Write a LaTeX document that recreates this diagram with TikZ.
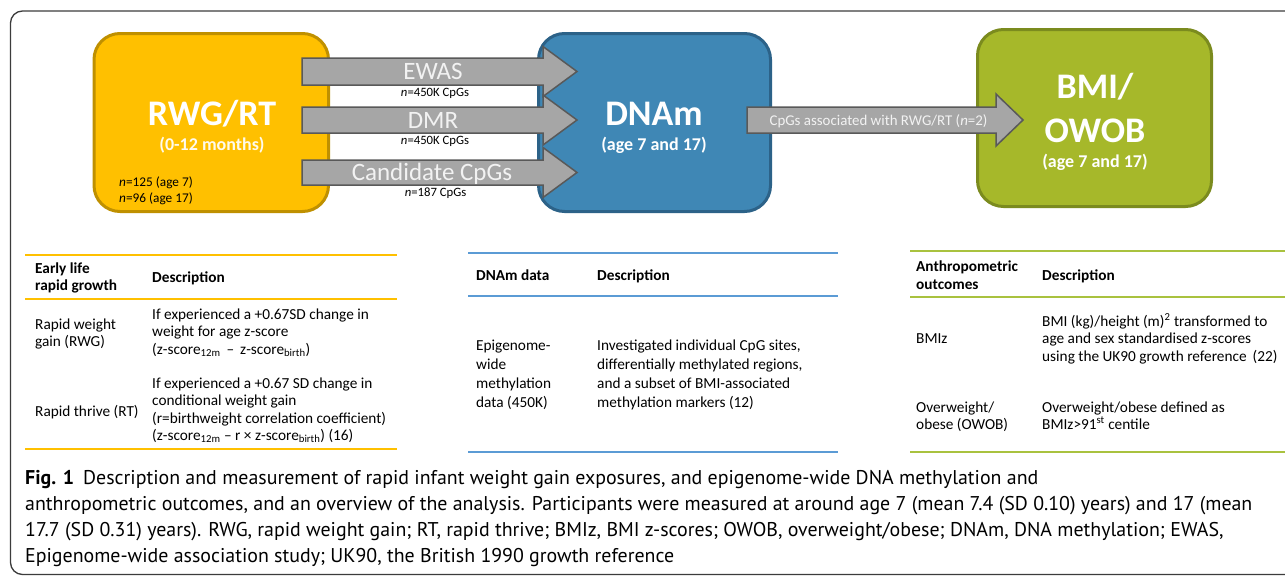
\documentclass[tikz,border=0pt]{standalone}
\usepackage{fontspec}
\setmainfont{Carlito}
\newfontfamily\capfont{PT Sans}
\usetikzlibrary{calc}
\definecolor{ybox}{HTML}{FFC000}
\definecolor{yedge}{HTML}{BF9000}
\definecolor{bbox}{HTML}{3F87B5}
\definecolor{bedge}{HTML}{2C6288}
\definecolor{gbox}{HTML}{A6B82A}
\definecolor{gedge}{HTML}{7B8B1E}
\definecolor{afill}{HTML}{A6A6A6}
\definecolor{aedge}{HTML}{595959}
\definecolor{alabel}{HTML}{F2F2F2}
\definecolor{yline}{HTML}{FFC000}
\definecolor{bline}{HTML}{5B9BD5}
\definecolor{gline}{HTML}{A9C23F}
\definecolor{framec}{HTML}{3C3C3C}
\newcommand\blockarrow[5]{%
  \draw[barrow] ($(#1)+(0,-#3)$) -- ($(#2)+(-#5,-#3)$) -- ($(#2)+(-#5,-#4)$) -- (#2)
    -- ($(#2)+(-#5,#4)$) -- ($(#2)+(-#5,#3)$) -- ($(#1)+(0,#3)$) -- cycle;}
\newcommand\textlines[5]{%
  \foreach \tl [count=\ti] in {#5} {\node[cell, anchor=base west] (#1-\ti) at (#2, {#3+(\ti-1)*#4}) {\tl};}}
\begin{document}
\begin{tikzpicture}[x=1pt,y=-1pt,
  box/.style={draw, line width=3pt, rounded corners=26pt, inner sep=0pt},
  bigt/.style={text=white, font=\bfseries\fontsize{36}{40}\selectfont, inner sep=0pt},
  midt/.style={text=white, font=\bfseries\fontsize{18}{20}\selectfont, inner sep=0pt},
  smallt/.style={text=black, font=\fontsize{13.3}{16}\selectfont, inner sep=0pt},
  barrow/.style={fill=afill, draw=aedge, line width=1.5pt, line join=miter},
  alab/.style={text=alabel, font=\fontsize{25}{28}\selectfont, inner sep=0pt},
  nlab/.style={text=black, font=\fontsize{12.7}{15}\selectfont, inner sep=0pt},
  cell/.style={text=black, font=\fontsize{15.3}{18}\selectfont, inner sep=0pt},
  hcell/.style={cell, font=\bfseries\fontsize{15.3}{18}\selectfont},
  rule/.style={line width=2pt},
  captext/.style={text=black, font=\capfont\fontsize{19.9}{26}\selectfont, inner sep=0pt},
  framest/.style={draw=framec, line width=1.3pt, rounded corners=12pt}]
\useasboundingbox (0,0) rectangle (1285,576);
\clip (0,0) rectangle (1285,576);
\fill[white] (0,0) rectangle (1285,576);
\draw[framest] (10.5,11) rectangle (1320,574.5);

% boxes
\node[box, fill=ybox, draw=yedge, minimum width=234.5pt, minimum height=178pt] (rwg) at (211.25,122.5) {};
\node[box, fill=bbox, draw=bedge, minimum width=232pt, minimum height=178pt] (dnam) at (654.5,122.5) {};
\node[box, fill=gbox, draw=gedge, minimum width=234pt, minimum height=177pt] (bmi) at (1094.5,118) {};

\node[bigt, anchor=base] (rwgT) at (212,125) {RWG/RT};
\node[midt, anchor=base, text=white!92!ybox] (rwgS) at (212,150) {(0-12 months)};
\node[smallt, anchor=base west] (rwgN1) at (119,186.5) {\textit{n}=125 (age 7)};
\node[smallt, anchor=base west] (rwgN2) at (119,202.5) {\textit{n}=96 (age 17)};

\node[bigt, anchor=base] (dnamT) at (654,125) {DNAm};
\node[midt, anchor=base] (dnamS) at (654,150) {(age 7 and 17)};

\node[bigt, anchor=base] (bmiT1) at (1095,98.3) {BMI/};
\node[bigt, anchor=base] (bmiT2) at (1095,142) {OWOB};
\node[midt, anchor=base] (bmiS) at (1095,167) {(age 7 and 17)};

% arrows
\coordinate (ewasS) at (302,71.5);  \coordinate (ewasE) at (577,71.5);
\coordinate (dmrS) at (302,120);    \coordinate (dmrE) at (577,120);
\coordinate (candS) at (302,172.5); \coordinate (candE) at (577,172.5);
\coordinate (assS) at (747,120);    \coordinate (assE) at (1023,120);
\blockarrow{ewasS}{ewasE}{13.5}{25}{34}
\blockarrow{dmrS}{dmrE}{13}{25}{34}
\blockarrow{candS}{candE}{12.5}{25}{34}
\blockarrow{assS}{assE}{13}{26}{27}

\node[alab, anchor=base] (ewasL) at (433,79.3) {EWAS};
\node[alab, anchor=base] (dmrL) at (433,128.3) {DMR};
\node[alab, anchor=base] (candL) at (432,180.7) {Candidate CpGs};
\node[nlab, anchor=base] (ewasN) at (435,96) {\textit{n}=450K CpGs};
\node[nlab, anchor=base] (dmrN) at (435,144.3) {\textit{n}=450K CpGs};
\node[nlab, anchor=base] (candN) at (435.5,196.7) {\textit{n}=187 CpGs};
\node[text=alabel, font=\fontsize{14.9}{17}\selectfont, inner sep=0pt, anchor=base] (assL) at (878.5,125.7) {CpGs associated with RWG/RT (\textit{n}=2)};

% table 1
\coordinate (t1a) at (25,255);  \coordinate (t1b) at (397,255);
\coordinate (t1c) at (25,299);  \coordinate (t1d) at (397,299);
\coordinate (t1e) at (25,449);  \coordinate (t1f) at (397,449);
\draw[rule, draw=yline] (t1a) -- (t1b);
\draw[rule, draw=yline] (t1c) -- (t1d);
\draw[rule, draw=yline] (t1e) -- (t1f);
\foreach \tl [count=\ti] in {Early life, rapid growth} {\node[hcell, anchor=base west] (t1h-\ti) at (35, {273+(\ti-1)*17}) {\tl};}
\node[hcell, anchor=base west] (t1hd) at (152,282) {Description};
\textlines{t1r1a}{35}{329}{17}{Rapid weight, gain (RWG)}
\textlines{t1r1b}{152}{319}{17.5}{If experienced a +0.67SD change in, weight for age z-score, {(z-score\textsubscript{12m} \,–\, z-score\textsubscript{birth})}}
\textlines{t1r2a}{35}{416}{17}{Rapid thrive (RT)}
\textlines{t1r2b}{152}{388}{17.5}{If experienced a +0.67 SD change in, conditional weight gain, (r=birthweight correlation coefficient), {(z-score\textsubscript{12m} – r × z-score\textsubscript{birth}) (16)}}

% table 2
\coordinate (t2a) at (468,253);  \coordinate (t2b) at (838,253);
\coordinate (t2c) at (468,296);  \coordinate (t2d) at (838,296);
\coordinate (t2e) at (468,452);  \coordinate (t2f) at (838,452);
\draw[rule, draw=bline] (t2a) -- (t2b);
\draw[rule, draw=bline] (t2c) -- (t2d);
\draw[rule, draw=bline] (t2e) -- (t2f);
\node[hcell, anchor=base west] (t2h1) at (476,280) {DNAm data};
\node[hcell, anchor=base west] (t2h2) at (597,280) {Description};
\textlines{t2r1a}{476}{350}{19}{Epigenome-, wide, methylation, data (450K)}
\textlines{t2r1b}{597}{350}{19}{{Investigated individual CpG sites,}, {differentially methylated regions,}, and a subset of BMI-associated, methylation markers (12)}

% table 3
\coordinate (t3a) at (910,251);  \coordinate (t3b) at (1285,251);
\coordinate (t3c) at (910,297);  \coordinate (t3d) at (1285,297);
\coordinate (t3e) at (910,452);  \coordinate (t3f) at (1285,452);
\draw[rule, draw=gline] (t3a) -- (t3b);
\draw[rule, draw=gline] (t3c) -- (t3d);
\draw[rule, draw=gline] (t3e) -- (t3f);
\foreach \tl [count=\ti] in {Anthropometric, outcomes} {\node[hcell, anchor=base west] (t3h-\ti) at (916, {271+(\ti-1)*18}) {\tl};}
\node[hcell, anchor=base west] (t3hd) at (1042,280) {Description};
\textlines{t3r1a}{916}{343}{17.5}{BMIz}
\textlines{t3r1b}{1042}{326}{17.5}{BMI (kg)/height (m)\textsuperscript{2} transformed to, age and sex standardised z-scores, using the UK90 growth reference \,(22)}
\textlines{t3r2a}{916}{412}{17}{Overweight/, obese (OWOB)}
\textlines{t3r2b}{1042}{412}{17}{Overweight/obese defined as, BMIz>91\textsuperscript{st} centile}

% caption
\node[captext, anchor=base west] (cap1) at (25,484) {\textbf{Fig. 1}\hspace{9pt}Description and measurement of rapid infant weight gain exposures, and epigenome-wide DNA methylation and};
\node[captext, anchor=base west] (cap2) at (25,510) {anthropometric outcomes, and an overview of the analysis. Participants were measured at around age 7 (mean 7.4 (SD 0.10) years) and 17 (mean};
\node[captext, anchor=base west] (cap3) at (25,536) {17.7 (SD 0.31) years). RWG, rapid weight gain; RT, rapid thrive; BMIz, BMI z-scores; OWOB, overweight/obese; DNAm, DNA methylation; EWAS,};
\node[captext, anchor=base west] (cap4) at (25,562) {Epigenome-wide association study; UK90, the British 1990 growth reference};
\end{tikzpicture}
\end{document}
